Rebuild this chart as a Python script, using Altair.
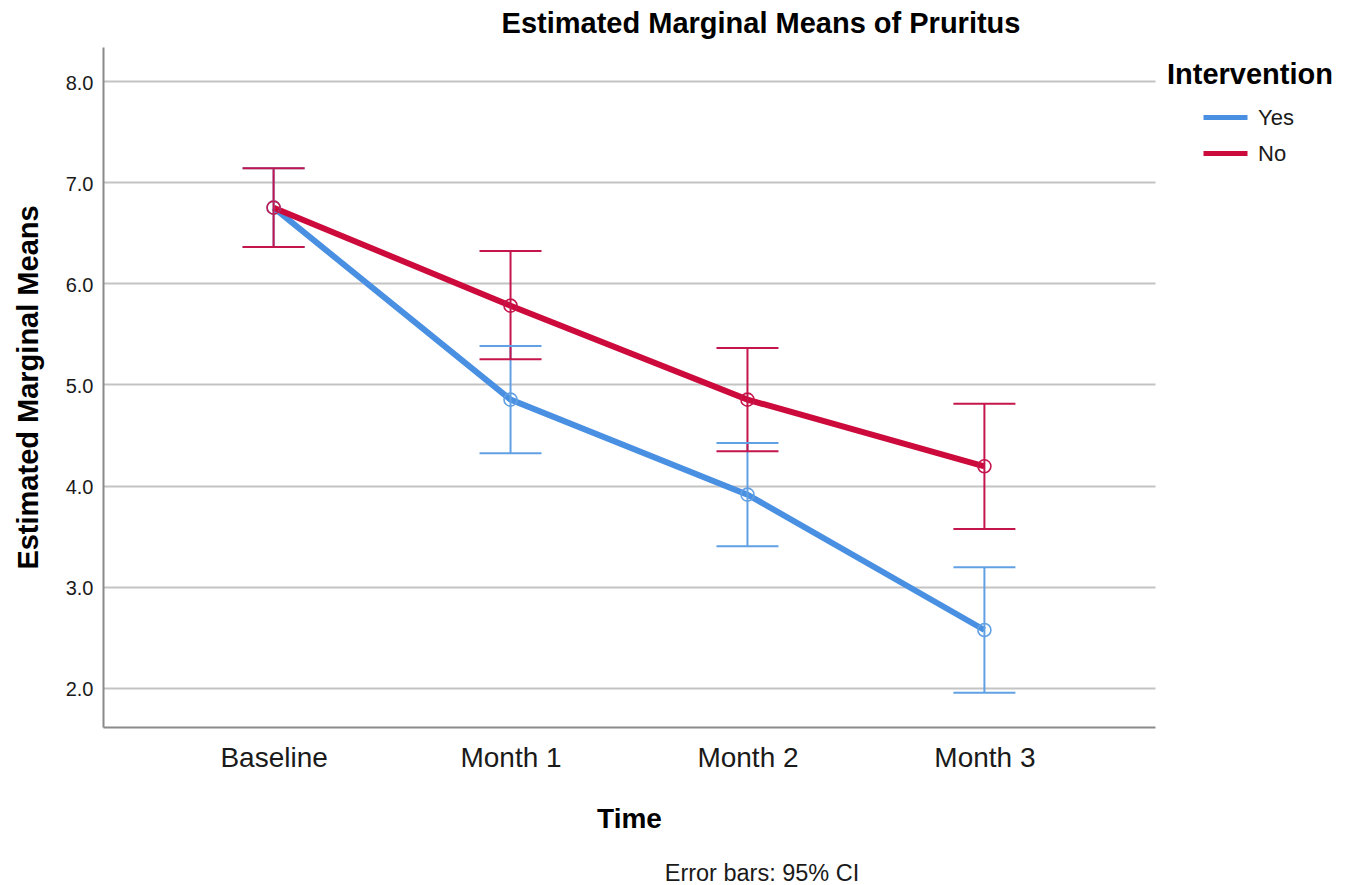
import altair as alt
import pandas as pd

# ---- data ----
time_points = ["Baseline", "Month 1", "Month 2", "Month 3"]
groups = ["Yes", "No"]

yes_mean = [6.75, 4.85, 3.91, 2.57]
yes_lower = [6.36, 4.32, 3.40, 1.95]
yes_upper = [7.14, 5.38, 4.42, 3.19]

no_mean = [6.75, 5.78, 4.85, 4.19]
no_lower = [6.36, 5.25, 4.34, 3.57]
no_upper = [7.14, 6.32, 5.36, 4.81]

y_ticks = [2, 3, 4, 5, 6, 7, 8]

title_text = "Estimated Marginal Means of Pruritus"
y_title = "Estimated Marginal Means"
x_title = "Time"
legend_title = "Intervention"
footnote = "Error bars: 95% CI"

line_colors = ["#4a90e2", "#cc0a3c"]
bar_colors = ["#62a0e4", "#c4164c"]
FONT = "Liberation Sans"

rows = []
for g, m, lo, up in [("Yes", yes_mean, yes_lower, yes_upper), ("No", no_mean, no_lower, no_upper)]:
    for t, a, b, c in zip(time_points, m, lo, up):
        rows.append({"time": t, "group": g, "mean": a, "lower": b, "upper": c})
df = pd.DataFrame(rows)

x_enc = alt.X(
    "time:N",
    sort=time_points,
    scale=alt.Scale(type="point", padding=0.72),
    axis=alt.Axis(
        title=x_title,
        grid=False,
        ticks=False,
        tickSize=0,
        labelAngle=0,
        labelFont=FONT,
        labelFontSize=28,
        labelColor="#1a1a1a",
        labelPadding=39,
        labelBaseline="alphabetic",
        domainColor="#8a8a8a",
        domainWidth=2,
        titleFont=FONT,
        titleFontSize=28,
        titleFontWeight="bold",
        titleColor="#000000",
        titleY=100,
        titleBaseline="alphabetic",
    ),
)

y_scale = alt.Scale(domain=[1.61, 8.34], nice=False, zero=False)
y_axis = alt.Axis(
    title=y_title,
    values=y_ticks,
    format=".1f",
    ticks=False,
    tickSize=0,
    labelFont=FONT,
    labelFontSize=20,
    labelColor="#1a1a1a",
    labelPadding=10,
    labelBaseline="middle",
    labelOffset=2,
    grid=True,
    gridColor="#c3c3c3",
    gridWidth=2,
    domainColor="#8a8a8a",
    domainWidth=2,
    titleFont=FONT,
    titleFontSize=29,
    titleFontWeight="bold",
    titleColor="#000000",
    titleX=-66,
    titleY=340,
    titleBaseline="alphabetic",
)

color_enc = alt.Color(
    "group:N",
    scale=alt.Scale(domain=groups, range=line_colors),
    legend=alt.Legend(
        title=None,
        orient="none",
        legendX=1098,
        legendY=46,
        symbolType="stroke",
        symbolSize=1936,
        symbolStrokeWidth=5,
        labelFont=FONT,
        labelFontSize=22,
        labelColor="#1a1a1a",
        labelOffset=8,
        rowPadding=-15,
    ),
)
stroke_enc = alt.Stroke(
    "group:N", scale=alt.Scale(domain=groups, range=bar_colors), legend=None
)

base = alt.Chart(df)

line_yes = base.transform_filter(alt.datum.group == "Yes").mark_line(strokeWidth=6).encode(
    x=x_enc, y=alt.Y("mean:Q", scale=y_scale, axis=y_axis), color=color_enc
)
line_no = base.transform_filter(alt.datum.group == "No").mark_line(strokeWidth=6).encode(
    x=x_enc, y=alt.Y("mean:Q", scale=y_scale, axis=y_axis), color=color_enc
)

bars = base.mark_rule(strokeWidth=2, opacity=1).encode(
    x=x_enc, y=alt.Y("lower:Q", scale=y_scale), y2="upper:Q", stroke=stroke_enc
)
caps_low = base.mark_rule(strokeWidth=2, opacity=1).encode(
    x=x_enc, y=alt.Y("lower:Q", scale=y_scale), stroke=stroke_enc
)
caps_low = base.mark_tick(size=60, thickness=0.01, strokeWidth=2, opacity=1).encode(
    x=x_enc, y=alt.Y("lower:Q", scale=y_scale), stroke=stroke_enc
)
caps_up = base.mark_tick(size=60, thickness=0.01, strokeWidth=2, opacity=1).encode(
    x=x_enc, y=alt.Y("upper:Q", scale=y_scale), stroke=stroke_enc
)
points = base.mark_point(shape="circle", filled=False, size=169, strokeWidth=1.6, opacity=1).encode(
    x=x_enc, y=alt.Y("mean:Q", scale=y_scale), stroke=stroke_enc
)

title_mark = alt.Chart(pd.DataFrame({"t": [title_text]})).mark_text(
    align="center", baseline="alphabetic", font=FONT, fontSize=29, fontWeight="bold", color="#000000"
).encode(x=alt.value(658), y=alt.value(-14), text="t:N")

leg_title = alt.Chart(pd.DataFrame({"t": [legend_title]})).mark_text(
    align="left", baseline="alphabetic", font=FONT, fontSize=29, fontWeight="bold", color="#000000"
).encode(x=alt.value(1064), y=alt.value(37), text="t:N")

foot = alt.Chart(pd.DataFrame({"t": [footnote]})).mark_text(
    align="center", baseline="alphabetic", font=FONT, fontSize=23.5, color="#1a1a1a"
).encode(x=alt.value(659), y=alt.value(834), text="t:N")

chart = alt.layer(
    line_yes, line_no, bars, caps_low, caps_up, points, title_mark, leg_title, foot
).properties(
    width=1052,
    height=680,
    padding={"left": 95, "top": 39, "right": 186, "bottom": 161},
    autosize=alt.AutoSizeParams(type="none"),
).configure_view(stroke=None)

chart.save("out.html", embed_options={"renderer": "svg", "actions": False})
